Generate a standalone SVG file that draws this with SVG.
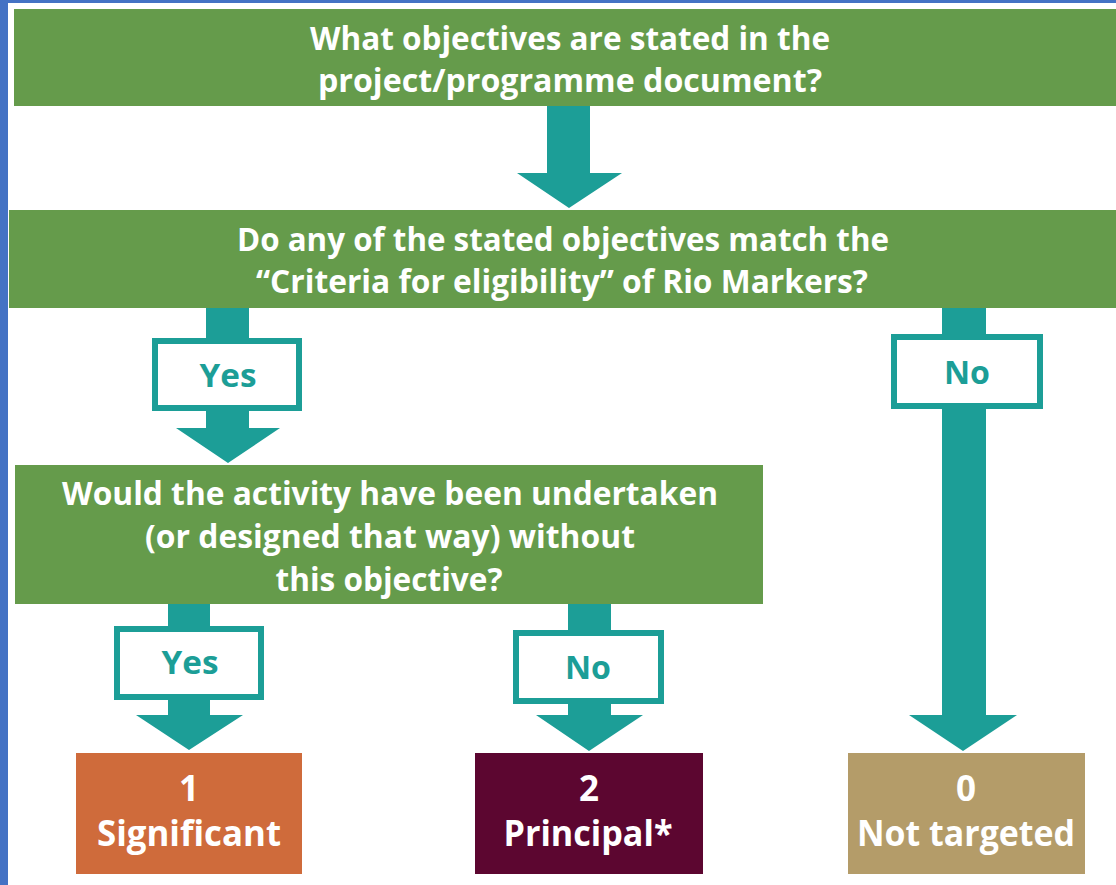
<svg xmlns="http://www.w3.org/2000/svg" width="1116" height="885" viewBox="0 0 1116 885">
<style>
.q{fill:#659b4b}
.t{font-family:"Open Sans","Liberation Sans",sans-serif;font-weight:700;fill:#ffffff;text-anchor:middle}
.q-t{font-size:33px}
.r-t{font-size:35px}
.arr{fill:#1c9e97}
.lbl{fill:#ffffff;stroke:#1c9e97;stroke-width:6}
.lt{font-family:"Open Sans","Liberation Sans",sans-serif;font-weight:700;fill:#1c9e97;font-size:32px;text-anchor:middle}
</style>
<rect x="0" y="0" width="1116" height="885" fill="#ffffff"/>
<rect x="0" y="0" width="8" height="885" fill="#4472c4"/>
<rect x="0" y="0" width="1116" height="3" fill="#4472c4"/>

<g id="connectors">
  <polygon class="arr" points="547,104 590,104 590,173 622,173 569,208 517,173 547,173"/>
  <polygon class="arr" points="206,306 249,306 249,428 280,428 228,463 176,428 206,428"/>
  <polygon class="arr" points="942,306 986,306 986,715 1017,715 963,751 909,715 942,715"/>
  <polygon class="arr" points="168,602 210,602 210,715 243,715 189,750 136,715 168,715"/>
  <polygon class="arr" points="568,602 611,602 611,715 643,715 589,751 536,715 568,715"/>
  <g id="lbl-yes1">
    <rect class="lbl" x="155" y="341" width="144" height="67"/>
    <text class="lt" x="228" y="387" textLength="57" lengthAdjust="spacingAndGlyphs">Yes</text>
  </g>
  <g id="lbl-no1">
    <rect class="lbl" x="894" y="337" width="146" height="69"/>
    <text class="lt" x="967" y="384" textLength="46" lengthAdjust="spacingAndGlyphs">No</text>
  </g>
  <g id="lbl-yes2">
    <rect class="lbl" x="117" y="629" width="144" height="68"/>
    <text class="lt" x="190" y="674" textLength="57" lengthAdjust="spacingAndGlyphs">Yes</text>
  </g>
  <g id="lbl-no2">
    <rect class="lbl" x="516" y="633" width="145" height="68"/>
    <text class="lt" x="588" y="679" textLength="46" lengthAdjust="spacingAndGlyphs">No</text>
  </g>
</g>

<g id="q1">
  <rect class="q" x="14" y="9" width="1102" height="97"/>
  <text class="t q-t" x="570" y="50" textLength="520" lengthAdjust="spacingAndGlyphs">What objectives are stated in the</text>
  <text class="t q-t" x="570" y="92" textLength="504" lengthAdjust="spacingAndGlyphs">project/programme document?</text>
</g>

<g id="q2">
  <rect class="q" x="9" y="210" width="1107" height="98"/>
  <text class="t q-t" x="563" y="251" textLength="652" lengthAdjust="spacingAndGlyphs">Do any of the stated objectives match the</text>
  <text class="t q-t" x="562" y="293" textLength="612" lengthAdjust="spacingAndGlyphs">“Criteria for eligibility” of Rio Markers?</text>
</g>

<g id="q3">
  <rect class="q" x="15" y="465" width="748" height="139"/>
  <text class="t q-t" x="390" y="505" textLength="656" lengthAdjust="spacingAndGlyphs">Would the activity have been undertaken</text>
  <text class="t q-t" x="390" y="548" textLength="490" lengthAdjust="spacingAndGlyphs">(or designed that way) without</text>
  <text class="t q-t" x="389" y="591" textLength="227" lengthAdjust="spacingAndGlyphs">this objective?</text>
</g>

<g id="r1">
  <rect x="76" y="753" width="226" height="121" fill="#cf6b3b"/>
  <text class="t r-t" x="189" y="801">1</text>
  <text class="t r-t" x="189" y="846" textLength="184" lengthAdjust="spacingAndGlyphs">Significant</text>
</g>

<g id="r2">
  <rect x="475" y="753" width="228" height="121" fill="#5c0630"/>
  <text class="t r-t" x="589" y="801">2</text>
  <text class="t r-t" x="588" y="846" textLength="169" lengthAdjust="spacingAndGlyphs">Principal*</text>
</g>

<g id="r0">
  <rect x="848" y="753" width="237" height="121" fill="#b49c69"/>
  <text class="t r-t" x="966" y="801">0</text>
  <text class="t r-t" x="966" y="846" textLength="218" lengthAdjust="spacingAndGlyphs">Not targeted</text>
</g>
</svg>
